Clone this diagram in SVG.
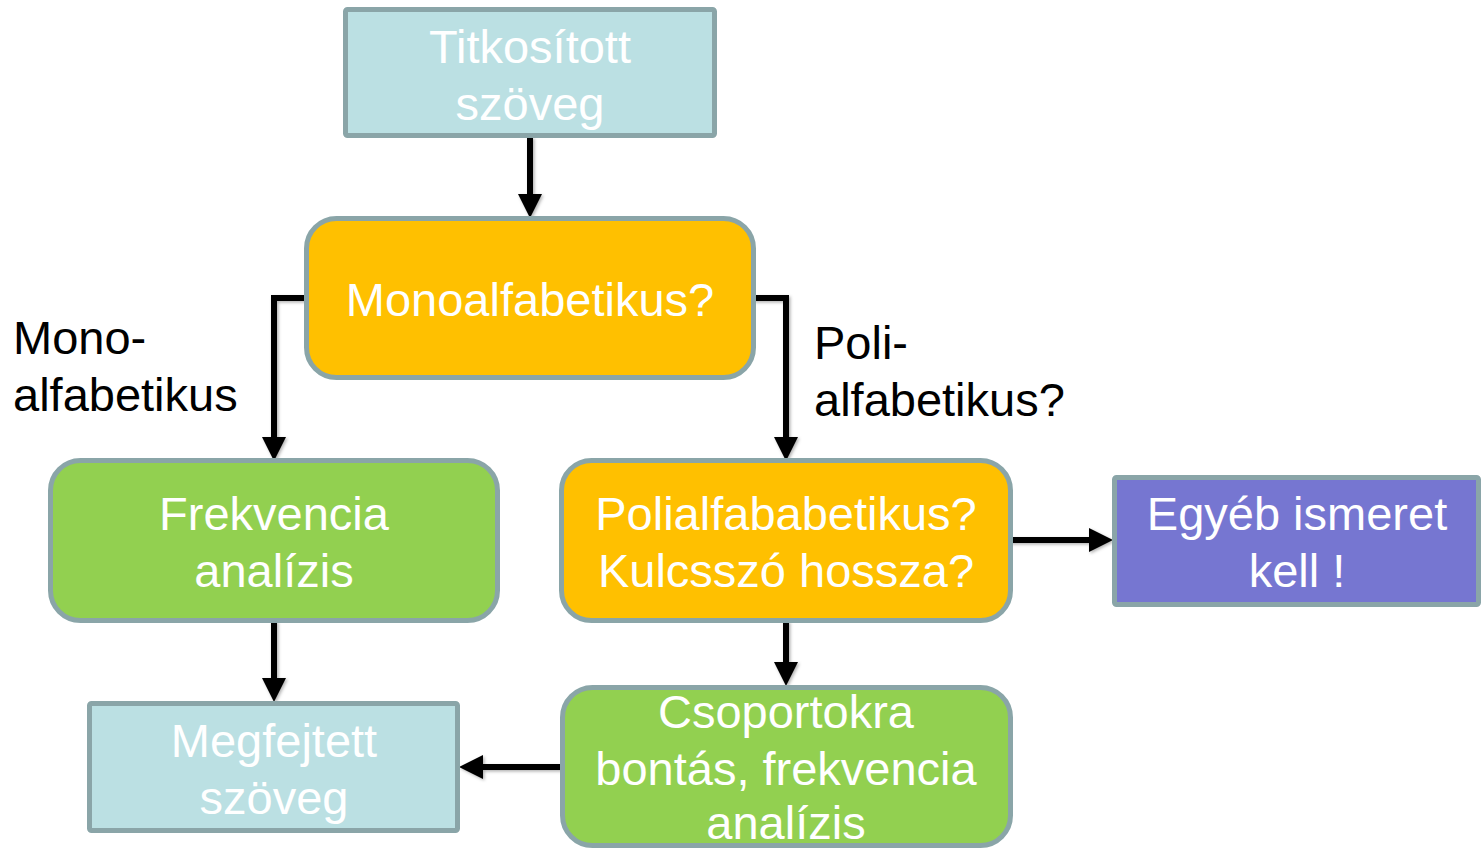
<svg xmlns="http://www.w3.org/2000/svg" width="1481" height="848" viewBox="0 0 1481 848">
  <style>
    .box { stroke: #8AA5A8; stroke-width: 5; }
    .teal { fill: #BBE0E3; }
    .orange { fill: #FFC000; }
    .green { fill: #92D050; }
    .purple { fill: #7676D1; }
    .label { font-family: "Liberation Sans", Arial, sans-serif; font-size: 47px; fill: #FFFFFF; text-anchor: middle; }
    .side { font-family: "Liberation Sans", Arial, sans-serif; font-size: 47px; fill: #000000; }
    .wire { fill: none; stroke: #000000; stroke-width: 6; stroke-linejoin: miter; marker-end: url(#head); }
  </style>
  <defs>
    <marker id="head" viewBox="0 0 24 24" markerUnits="userSpaceOnUse" markerWidth="24" markerHeight="24" refX="0" refY="12" orient="auto">
      <path d="M0,0 L24,12 L0,24 z" fill="#000000"/>
    </marker>
    <filter id="shade" x="-20%" y="-20%" width="140%" height="140%">
      <feDropShadow dx="1.5" dy="1.5" stdDeviation="1.5" flood-color="#000000" flood-opacity="0.3"/>
    </filter>
  </defs>

  <rect width="1481" height="848" fill="#FFFFFF"/>

  <!-- connectors -->
  <g id="connectors" filter="url(#shade)">
    <path class="wire" d="M530,137 V194"/>
    <path class="wire" d="M306,298 H274 V437"/>
    <path class="wire" d="M753,298 H786 V437"/>
    <path class="wire" d="M274,621 V678"/>
    <path class="wire" d="M786,621 V662"/>
    <path class="wire" d="M1010,540 H1089"/>
    <path class="wire" d="M562,767 H483"/>
  </g>

  <!-- branch labels -->
  <g id="label-mono">
    <text class="side" x="13" y="354">Mono-</text>
    <text class="side" x="13" y="411">alfabetikus</text>
  </g>
  <g id="label-poli">
    <text class="side" x="814" y="359">Poli-</text>
    <text class="side" x="814" y="416">alfabetikus?</text>
  </g>

  <!-- nodes -->
  <g id="node-titkositott">
    <rect class="box teal" x="345.5" y="9.5" width="369" height="126" rx="2"/>
    <text class="label" x="530" y="63">Titkosított</text>
    <text class="label" x="530" y="120">szöveg</text>
  </g>

  <g id="node-monoalfabetikus">
    <rect class="box orange" x="306.5" y="218.5" width="447" height="159" rx="30"/>
    <text class="label" x="530" y="316">Monoalfabetikus?</text>
  </g>

  <g id="node-frekvencia">
    <rect class="box green" x="50.5" y="460.5" width="447" height="160" rx="30"/>
    <text class="label" x="274" y="530">Frekvencia</text>
    <text class="label" x="274" y="587">analízis</text>
  </g>

  <g id="node-polialfabetikus">
    <rect class="box orange" x="561.5" y="460.5" width="449" height="160" rx="30"/>
    <text class="label" x="786" y="530">Polialfababetikus?</text>
    <text class="label" x="786" y="587">Kulcsszó hossza?</text>
  </g>

  <g id="node-egyeb">
    <rect class="box purple" x="1114.5" y="477.5" width="364" height="127" rx="2"/>
    <text class="label" x="1297" y="530">Egyéb ismeret</text>
    <text class="label" x="1297" y="587">kell !</text>
  </g>

  <g id="node-megfejtett">
    <rect class="box teal" x="89.5" y="703.5" width="368" height="127" rx="2"/>
    <text class="label" x="274" y="757">Megfejtett</text>
    <text class="label" x="274" y="814">szöveg</text>
  </g>

  <g id="node-csoportokra">
    <rect class="box green" x="562.5" y="687.5" width="448" height="158" rx="30"/>
    <text class="label" x="786" y="728">Csoportokra</text>
    <text class="label" x="786" y="785">bontás, frekvencia</text>
    <text class="label" x="786" y="839">analízis</text>
  </g>
</svg>
